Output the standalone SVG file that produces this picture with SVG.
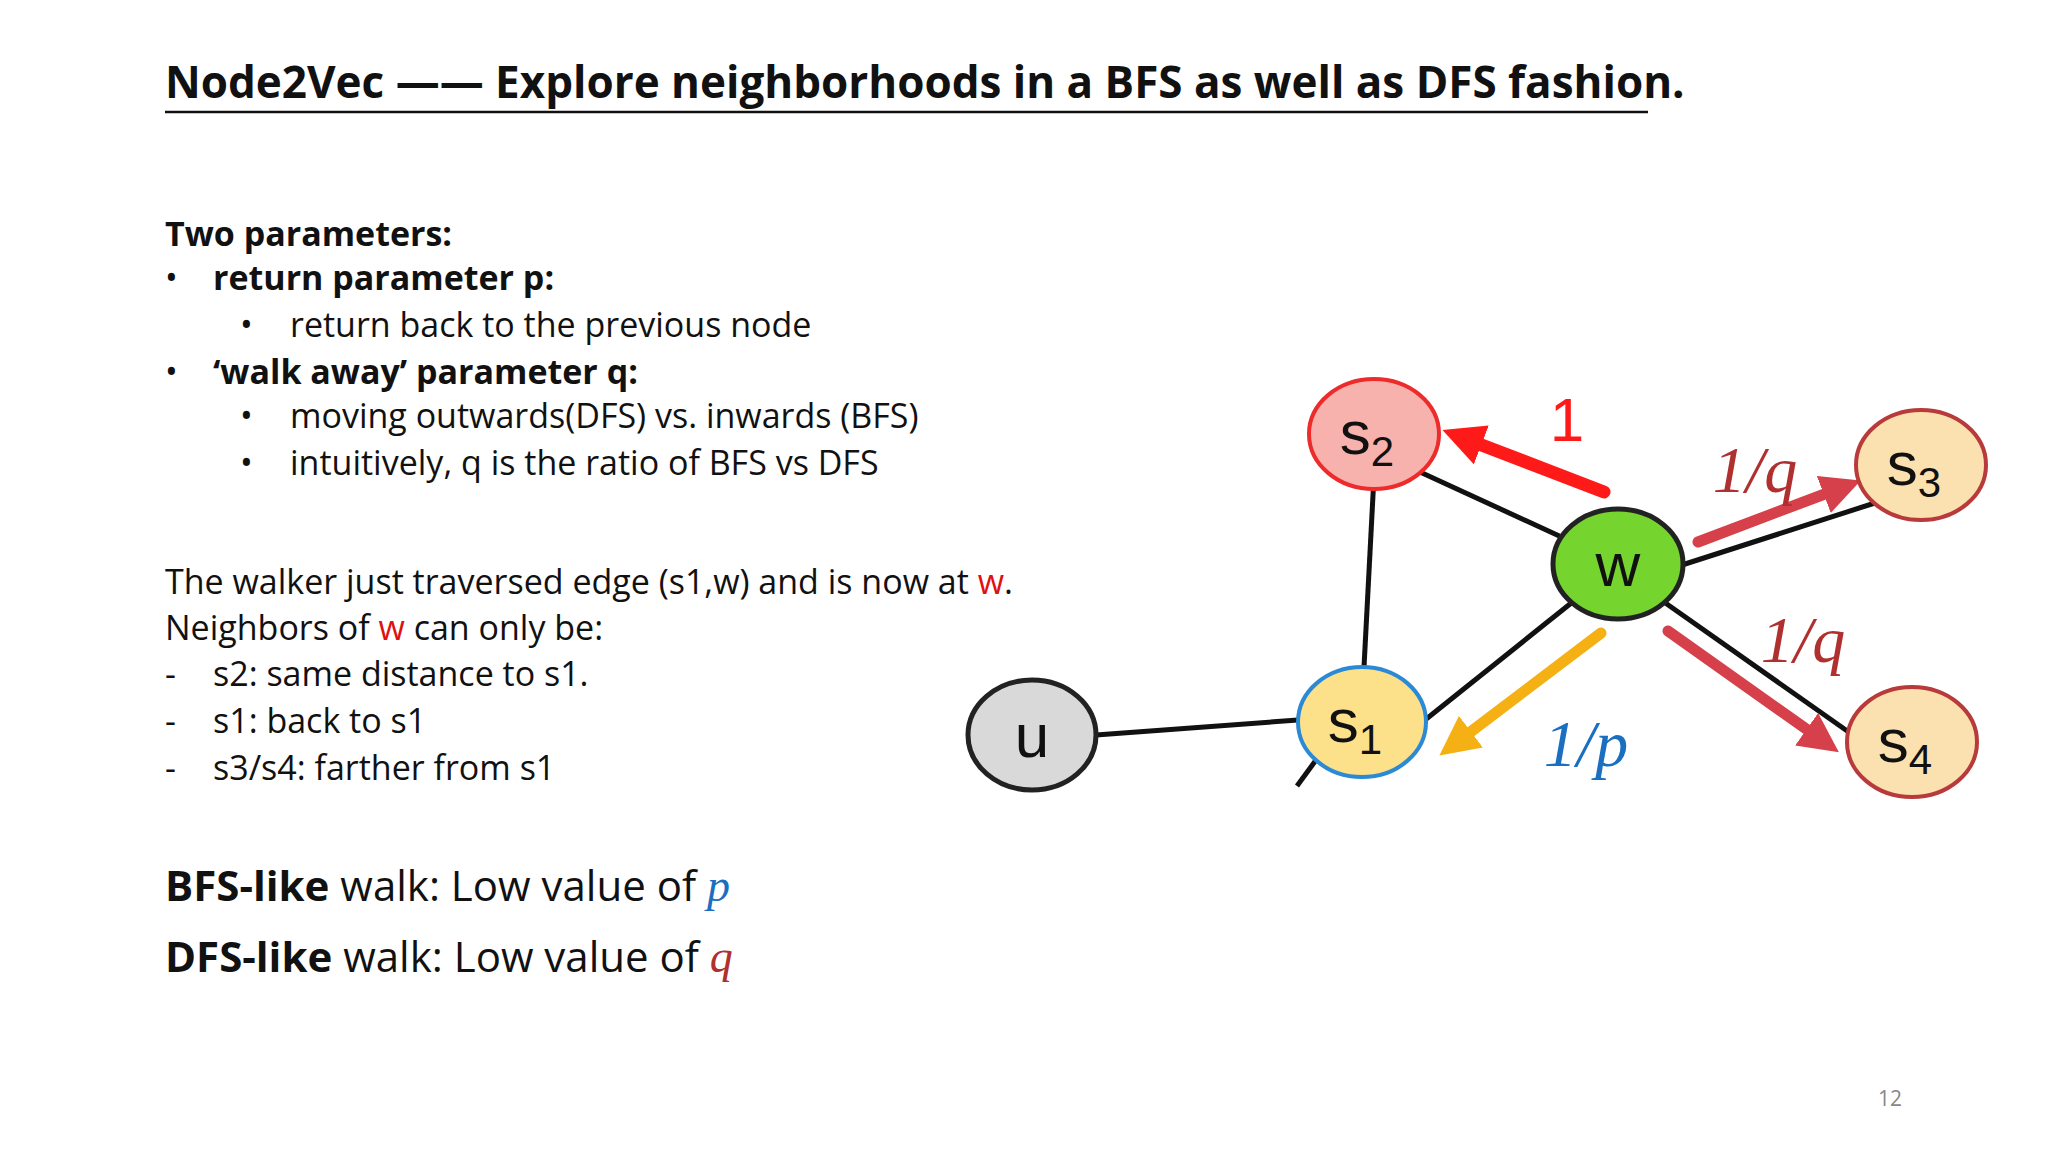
<svg xmlns="http://www.w3.org/2000/svg" width="2048" height="1152" viewBox="0 0 2048 1152">
<style>
.t{font-family:"Open Sans","Liberation Sans",sans-serif;font-size:34px;fill:#111}
.b{font-weight:bold}
.n{font-family:"Liberation Sans",Arial,sans-serif;font-size:62px;fill:#111;text-anchor:middle}
.m{font-family:"Liberation Serif","Times New Roman",serif;font-style:italic;font-size:66px}
.e{stroke:#111;stroke-width:5;fill:none}
</style>
<defs>
<marker id="ar" viewBox="0 0 10 10" refX="6" refY="5" markerWidth="3.2" markerHeight="3.2" orient="auto"><path d="M0,0L10,5L0,10z" fill="#ff1a1a"/></marker>
<marker id="aq" viewBox="0 0 10 10" refX="6" refY="5" markerWidth="3.6" markerHeight="3.6" orient="auto"><path d="M0,0L10,5L0,10z" fill="#d6404a"/></marker>
<marker id="ao" viewBox="0 0 10 10" refX="6" refY="5" markerWidth="3.6" markerHeight="3.6" orient="auto"><path d="M0,0L10,5L0,10z" fill="#f5b014"/></marker>
</defs>
<rect width="2048" height="1152" fill="#fff"/>
<text x="165" y="98" class="t b" style="font-size:44px">Node2Vec —— Explore neighborhoods in a BFS as well as DFS fashion.</text>
<line x1="165" y1="112" x2="1648" y2="112" stroke="#111" stroke-width="2.5"/>
<text x="165" y="246" class="t b">Two parameters:</text>
<text x="165" y="290" class="t">•</text><text x="213" y="290" class="t b">return parameter p:</text>
<text x="240" y="337" class="t">•</text><text x="290" y="337" class="t">return back to the previous node</text>
<text x="165" y="384" class="t">•</text><text x="213" y="384" class="t b">‘walk away’ parameter q:</text>
<text x="240" y="428" class="t">•</text><text x="290" y="428" class="t">moving outwards(DFS) vs. inwards (BFS)</text>
<text x="240" y="475" class="t">•</text><text x="290" y="475" class="t">intuitively, q is the ratio of BFS vs DFS</text>
<text x="165" y="594" class="t">The walker just traversed edge (s1,w) and is now at <tspan fill="#e01010">w</tspan>.</text>
<text x="165" y="640" class="t">Neighbors of <tspan fill="#e01010">w</tspan> can only be:</text>
<text x="165" y="686" class="t">-</text><text x="213" y="686" class="t">s2: same distance to s1.</text>
<text x="165" y="733" class="t">-</text><text x="213" y="733" class="t">s1: back to s1</text>
<text x="165" y="780" class="t">-</text><text x="213" y="780" class="t">s3/s4: farther from s1</text>
<text x="165" y="901" class="t" style="font-size:42px"><tspan font-weight="bold">BFS-like</tspan> walk: Low value of <tspan class="m" style="font-size:46px" fill="#1a6fc0">p</tspan></text>
<text x="165" y="972" class="t" style="font-size:42px"><tspan font-weight="bold">DFS-like</tspan> walk: Low value of <tspan class="m" style="font-size:46px" fill="#b03030">q</tspan></text>
<text x="1878" y="1106" class="t" style="font-size:21px;fill:#888">12</text>
<g id="connectors">
<line class="e" x1="1096" y1="735" x2="1298" y2="720"/>
<line class="e" x1="1364" y1="667" x2="1374" y2="476"/>
<line class="e" x1="1425" y1="720" x2="1575" y2="600"/>
<line class="e" x1="1420" y1="472" x2="1568" y2="540"/>
<line class="e" x1="1682" y1="565" x2="1878" y2="502"/>
<line class="e" x1="1664" y1="602" x2="1860" y2="740"/>
<line class="e" x1="1316" y1="760" x2="1297" y2="786"/>
<line x1="1604" y1="492" x2="1458" y2="436" stroke="#ff1a1a" stroke-width="13" stroke-linecap="round" marker-end="url(#ar)"/>
<line x1="1698" y1="542" x2="1846" y2="486" stroke="#d6404a" stroke-width="11" stroke-linecap="round" marker-end="url(#aq)"/>
<line x1="1668" y1="631" x2="1826" y2="743" stroke="#d6404a" stroke-width="11" stroke-linecap="round" marker-end="url(#aq)"/>
<line x1="1601" y1="633" x2="1452" y2="746" stroke="#f5b014" stroke-width="11" stroke-linecap="round" marker-end="url(#ao)"/>
<text x="1567" y="441" font-family="Liberation Sans,sans-serif" font-size="62" fill="#ff1a1a" text-anchor="middle">1</text>
<text x="1755" y="492" class="m" fill="#b03030" text-anchor="middle">1/q</text>
<text x="1803" y="662" class="m" fill="#b03030" text-anchor="middle">1/q</text>
<text x="1586" y="766" class="m" fill="#1a6fc0" text-anchor="middle">1/p</text>
</g>
<g id="u"><ellipse cx="1032" cy="735" rx="64" ry="55" fill="#d9d9d9" stroke="#222" stroke-width="5"/><text x="1032" y="757" class="n">u</text></g>
<g id="s1"><ellipse cx="1362" cy="722" rx="64" ry="55" fill="#fde08a" stroke="#2b8ad6" stroke-width="4"/><text x="1355" y="742" class="n">s<tspan font-size="42" dy="12">1</tspan></text></g>
<g id="s2"><ellipse cx="1374" cy="434" rx="65" ry="55" fill="#f7b2ae" stroke="#ee2b2b" stroke-width="4"/><text x="1367" y="454" class="n">s<tspan font-size="42" dy="12">2</tspan></text></g>
<g id="w"><ellipse cx="1618" cy="564" rx="65" ry="55" fill="#76d42e" stroke="#222" stroke-width="5"/><text x="1618" y="586" class="n">w</text></g>
<g id="s3"><ellipse cx="1921" cy="465" rx="65" ry="55" fill="#fbe0b0" stroke="#b83a3a" stroke-width="4"/><text x="1914" y="485" class="n">s<tspan font-size="42" dy="12">3</tspan></text></g>
<g id="s4"><ellipse cx="1912" cy="742" rx="65" ry="55" fill="#fbe0b0" stroke="#b83a3a" stroke-width="4"/><text x="1905" y="762" class="n">s<tspan font-size="42" dy="12">4</tspan></text></g>
</svg>
